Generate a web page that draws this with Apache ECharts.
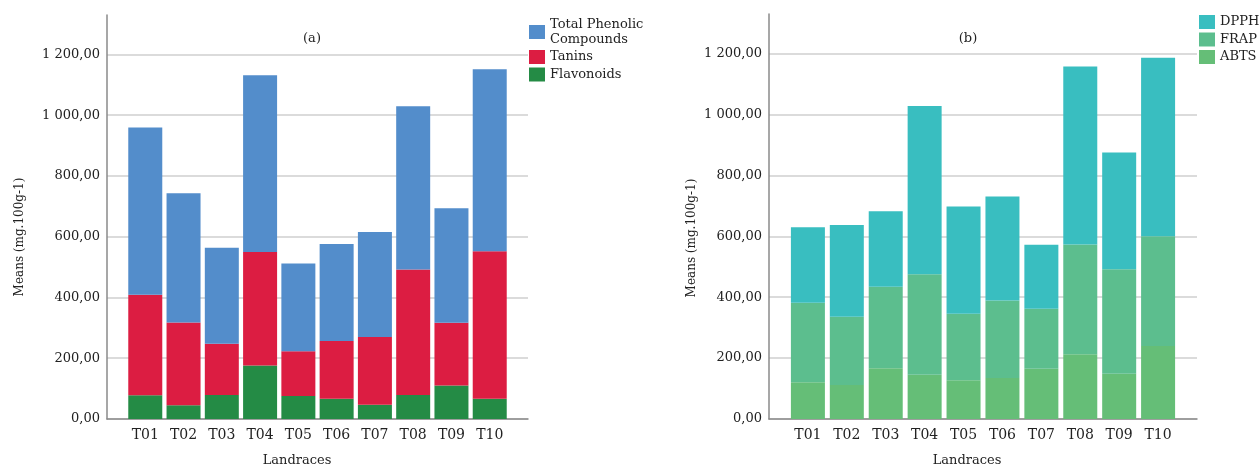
<!DOCTYPE html>
<html>
<head>
<meta charset="utf-8">
<script src="https://cdn.jsdelivr.net/npm/echarts@6/dist/echarts.min.js"></script>
<style>
  html, body { margin: 0; padding: 0; background: #fff; }
  #main { width: 1260px; height: 467px; }
</style>
</head>
<body>
<div id="main"></div>
<script>
// categories
var landraces = ['T01', 'T02', 'T03', 'T04', 'T05', 'T06', 'T07', 'T08', 'T09', 'T10'];

// (a) stacked segments, mg.100g-1
var flavonoids = [78, 45, 79, 176, 76, 67, 47, 79, 110, 67];
var tanins = [331, 273, 169, 374, 147, 190, 223, 413, 207, 485];
var phenolics = [551, 425, 316, 582, 289, 319, 346, 538, 377, 599];

// (b) stacked segments
var abts = [121, 112, 167, 145, 127, 135, 165, 213, 149, 240];
var frap = [261, 224, 267, 330, 219, 254, 197, 360, 343, 360];
var dpph = [248, 301, 248, 553, 352, 342, 210, 585, 383, 586];

var yTicks = [0, 200, 400, 600, 800, 1000, 1200];

var font = 'DejaVu Serif';
var txt = '#222';

// empty slots at both ends give the SPSS-like padding inside the axis
var slots = [''].concat(landraces).concat(['']);

function fmt(v) {
    // 1 200,00 style
    var s = v.toFixed(2).replace('.', ',');
    var parts = s.split(',');
    var ip = parts[0].replace(/\B(?=(\d{3})+(?!\d))/g, ' ');
    return ip + ',' + parts[1];
}

function pts(arr) {
    return arr.map(function (v, i) { return [landraces[i], v]; });
}

function xAx(idx) {
    return {
        type: 'category', gridIndex: idx, data: slots, boundaryGap: false,
        axisLine: { show: true, lineStyle: { color: '#8a8a8a', width: 1.5 } },
        axisTick: { show: false },
        splitLine: { show: false },
        axisLabel: {
            interval: 0, margin: 9,
            color: txt, fontFamily: font, fontSize: 14
        }
    };
}

function yAx(idx) {
    return {
        type: 'value', gridIndex: idx, min: 0, max: 1330, interval: 200,
        axisLine: { show: true, lineStyle: { color: '#8a8a8a', width: 1.5 } },
        axisTick: { show: false },
        splitLine: { show: true, showMaxLine: false, lineStyle: { color: '#cfcfcf', width: 1.5 } },
        axisLabel: {
            showMaxLabel: false, margin: 7,
            color: txt, fontFamily: font, fontSize: 13,
            formatter: function (v) { return yTicks.indexOf(v) >= 0 ? fmt(v) : ''; }
        }
    };
}

function bar(name, data, color, idx) {
    return {
        name: name, type: 'bar', stack: 's' + idx,
        xAxisIndex: idx, yAxisIndex: idx,
        barWidth: 34,
        itemStyle: { color: color },
        data: pts(data)
    };
}

var chart = echarts.init(document.getElementById('main'));

var option = {
    animation: false,
    backgroundColor: '#fff',
    grid: [
        { left: 107, top: 15, width: 421, height: 404, containLabel: false },
        { left: 769, top: 14, width: 428, height: 405, containLabel: false }
    ],
    xAxis: [xAx(0), xAx(1)],
    yAxis: [yAx(0), yAx(1)],
    legend: [
        {
            orient: 'vertical', left: 529, top: 17, padding: 0,
            itemWidth: 16, itemHeight: 14, itemGap: 2.5, icon: 'rect',
            textStyle: { color: txt, fontFamily: font, fontSize: 13, lineHeight: 15 },
            data: ['Total Phenolic\nCompounds', 'Tanins', 'Flavonoids']
        },
        {
            orient: 'vertical', left: 1199, top: 14.5, padding: 0,
            itemWidth: 16, itemHeight: 14, itemGap: 2.5, icon: 'rect',
            textStyle: { color: txt, fontFamily: font, fontSize: 13, lineHeight: 15 },
            data: ['DPPH', 'FRAP', 'ABTS']
        }
    ],
    graphic: [
        { type: 'text', x: 312, y: 39, style: { text: '(a)', fill: txt, font: '13px "DejaVu Serif"', textAlign: 'center', textVerticalAlign: 'middle' } },
        { type: 'text', x: 968, y: 39, style: { text: '(b)', fill: txt, font: '13px "DejaVu Serif"', textAlign: 'center', textVerticalAlign: 'middle' } },
        { type: 'text', x: 297, y: 461, style: { text: 'Landraces', fill: txt, font: '13px "DejaVu Serif"', textAlign: 'center', textVerticalAlign: 'middle' } },
        { type: 'text', x: 967, y: 461, style: { text: 'Landraces', fill: txt, font: '13px "DejaVu Serif"', textAlign: 'center', textVerticalAlign: 'middle' } },
        { type: 'text', x: 20, y: 237, rotation: Math.PI / 2, style: { text: 'Means (mg.100g-1)', fill: txt, font: '12px "DejaVu Serif"', textAlign: 'center', textVerticalAlign: 'middle' } },
        { type: 'text', x: 692, y: 238, rotation: Math.PI / 2, style: { text: 'Means (mg.100g-1)', fill: txt, font: '12px "DejaVu Serif"', textAlign: 'center', textVerticalAlign: 'middle' } }
    ],
    series: [
        bar('Flavonoids', flavonoids, '#248B45', 0),
        bar('Tanins', tanins, '#DC1D42', 0),
        bar('Total Phenolic\nCompounds', phenolics, '#538DCB', 0),
        bar('ABTS', abts, '#65BE77', 1),
        bar('FRAP', frap, '#5CBE8E', 1),
        bar('DPPH', dpph, '#39BEC0', 1)
    ]
};

chart.setOption(option);
</script>
</body>
</html>
